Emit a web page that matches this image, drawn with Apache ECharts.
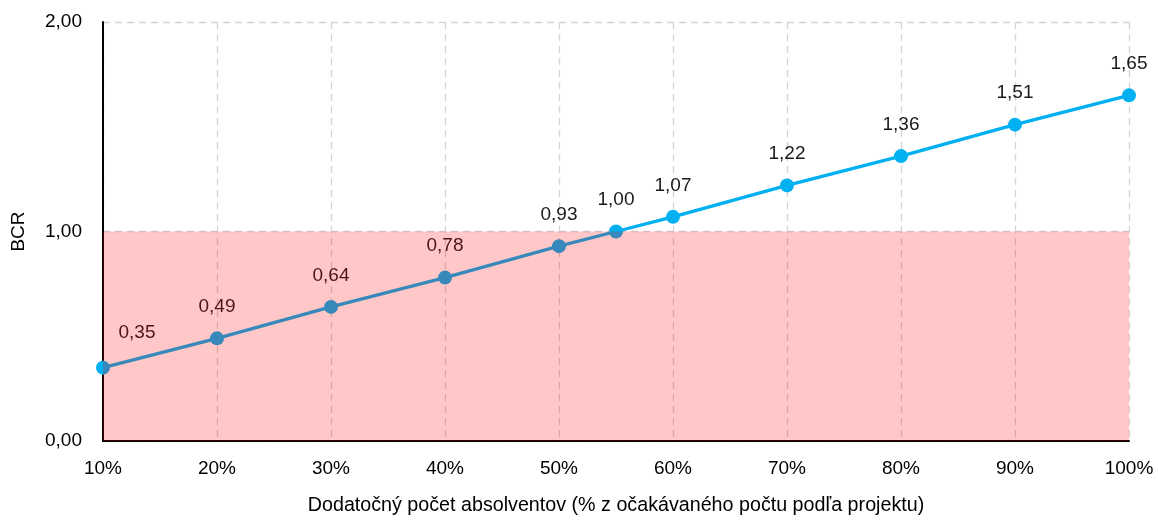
<!DOCTYPE html>
<html>
<head>
<meta charset="utf-8">
<script src="https://cdn.jsdelivr.net/npm/echarts@6/dist/echarts.min.js"></script>
<style>
  html, body { margin: 0; padding: 0; background: #fff; }
  #chart { width: 1158px; height: 520px; }
</style>
</head>
<body>
<div id="chart"></div>
<script>
// Additional graduates as % of the projected count, and the resulting BCR
const graduatesPct = [10, 20, 30, 40, 50, 55, 60, 70, 80, 90, 100];
const bcrValues = [0.35, 0.49, 0.64, 0.78, 0.93, 1.00, 1.07, 1.22, 1.36, 1.51, 1.65];
// Region where the project does not pay off (BCR below 1)
const lossZoneX = [10, 100];
const lossZoneY = [0, 1];

const FONT = '"Liberation Sans", Arial, sans-serif';
const fmtComma = v => v.toFixed(2).replace('.', ',');

const points = graduatesPct.map((x, i) => {
  const p = { value: [x, bcrValues[i]] };
  if (i === 0) p.label = { position: 'top', offset: [34, -3] };
  return p;
});

const gridLine = { show: true, lineStyle: { color: '#d4d4d4', type: [7, 5], width: 1.3 } };

const chart = echarts.init(document.getElementById('chart'));
chart.setOption({
  animation: false,
  grid: { left: 103, right: 29, top: 22, bottom: 79, outerBoundsMode: 'none', containLabel: false },
  xAxis: {
    type: 'value',
    min: 10,
    max: 100,
    interval: 10,
    name: 'Dodatočný počet absolventov (% z očakávaného počtu podľa projektu)',
    nameLocation: 'middle',
    nameGap: 55,
    nameTextStyle: { fontFamily: FONT, fontSize: 19.7, color: '#000' },
    axisLine: { show: true, lineStyle: { color: '#000', width: 2 } },
    axisTick: { show: false },
    axisLabel: { formatter: v => v + '%', fontFamily: FONT, fontSize: 19, color: '#000', margin: 18 },
    splitLine: gridLine
  },
  yAxis: {
    type: 'value',
    min: 0,
    max: 2,
    interval: 1,
    name: 'BCR',
    nameLocation: 'middle',
    nameRotate: 90,
    nameGap: 75,
    nameTextStyle: { fontFamily: FONT, fontSize: 19, color: '#000' },
    axisLine: { show: true, lineStyle: { color: '#000', width: 2 } },
    axisTick: { show: false },
    axisLabel: { formatter: v => fmtComma(v), fontFamily: FONT, fontSize: 19, color: '#000', margin: 21 },
    splitLine: gridLine
  },
  series: [
    {
      type: 'line',
      z: 2,
      data: points,
      symbol: 'circle',
      symbolSize: 14,
      lineStyle: { color: '#00B0F0', width: 3.3 },
      itemStyle: { color: '#00B0F0' },
      label: {
        show: true,
        position: 'top',
        distance: 15,
        formatter: p => fmtComma(p.value[1]),
        fontFamily: FONT,
        fontSize: 19,
        color: '#1a1a1a'
      }
    },
    {
      // translucent red band laid over everything below BCR = 1
      type: 'custom',
      z: 10,
      silent: true,
      data: [[lossZoneX[0], lossZoneY[0], lossZoneX[1], lossZoneY[1]]],
      renderItem: (params, api) => {
        const p0 = api.coord([api.value(0), api.value(1)]);
        const p1 = api.coord([api.value(2), api.value(3)]);
        return {
          type: 'rect',
          shape: {
            x: Math.min(p0[0], p1[0]),
            y: Math.min(p0[1], p1[1]),
            width: Math.abs(p1[0] - p0[0]),
            height: Math.abs(p1[1] - p0[1])
          },
          style: { fill: 'rgba(255, 0, 0, 0.22)' }
        };
      }
    }
  ]
});
</script>
</body>
</html>
